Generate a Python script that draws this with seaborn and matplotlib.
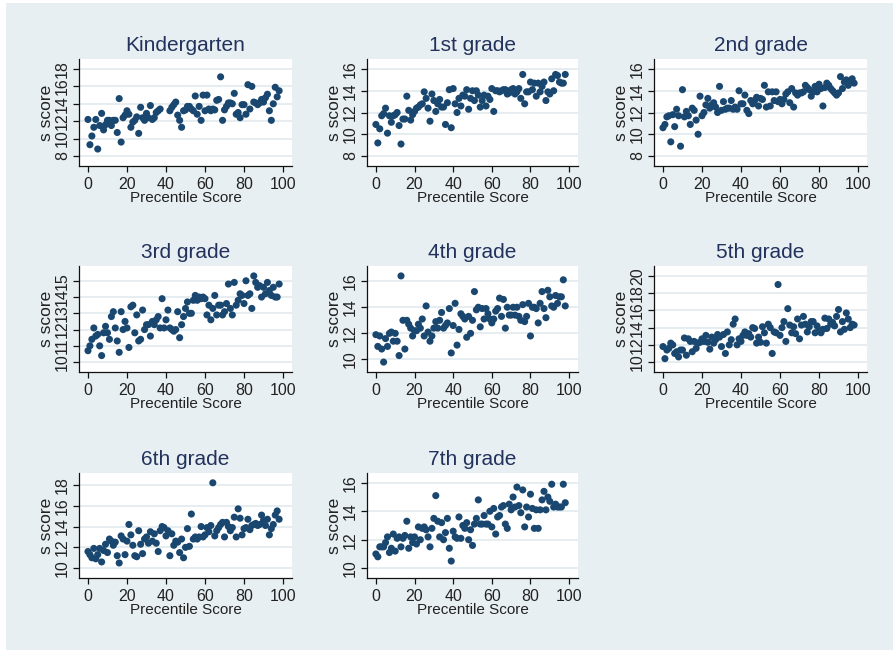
import numpy as np
import pandas as pd
import matplotlib
matplotlib.use("Agg")
import matplotlib.pyplot as plt
from matplotlib.patches import Rectangle
import seaborn as sns

nan = np.nan
percentile = list(range(99))

kindergarten = [12.2, 9.3, 10.3, 11.3, 12.2, 8.8, 11.5, 12.9, 11.0, 11.6,
                12.1, 12.1, 11.5, 12.1, 12.1, 10.7, 14.6, 9.6, 12.4, 12.7,
                13.2, 12.8, 11.3, 11.9, 12.1, 12.5, 10.6, 13.6, 12.4, 12.1,
                12.9, 12.4, 13.8, 12.2, 12.4, 13.0, 13.2, 13.4, nan, nan,
                nan, nan, 13.2, 13.6, 13.9, 14.2, 12.7, 12.1, 11.3, 13.2,
                13.3, 13.7, 13.7, 13.4, 13.2, 14.9, 12.8, 13.7, 12.1, 15.0,
                13.2, 15.0, 13.4, 13.2, 13.4, 13.3, 14.4, 14.5, 17.1, 12.1,
                13.3, 13.7, 14.1, 14.1, 14.0, 15.2, 12.8, 13.0, 12.4, 13.9,
                13.9, 12.8, 16.2, 13.4, 16.0, 14.2, 14.1, 13.9, 14.1, 14.5,
                14.2, 14.7, 15.1, 13.2, 12.1, 14.0, 15.9, 14.8, 15.5]

grade1 = [10.9, 9.2, 10.5, 11.7, 11.9, 12.4, 10.1, 11.7, 11.1, 11.7,
          11.8, 12.0, 10.8, 9.1, 11.4, 11.4, 13.5, 12.2, 11.3, 11.8,
          12.1, 12.4, 12.5, 12.7, 12.8, 13.9, 13.3, 12.4, 11.2, 13.7,
          13.1, 12.1, 12.8, 13.2, 12.5, 12.5, 10.9, 12.9, 14.1, 10.6,
          14.2, 12.8, 12.0, 13.3, 12.6, 13.6, 13.5, 14.1, 12.3, 13.3,
          14.0, 13.1, 14.0, 13.6, 12.5, 13.1, 13.6, 12.6, 13.5, 13.2,
          14.2, 12.1, 14.0, 14.0, 13.9, 14.0, 14.1, 14.1, 13.7, 13.8,
          14.1, 14.2, 13.7, 13.9, 14.2, 13.3, 15.5, 12.8, 13.9, 13.9,
          14.8, 14.1, 14.7, 13.5, 14.7, 13.9, 14.4, 14.8, 13.1, 13.9,
          13.7, 15.1, 14.0, 15.5, 15.4, 14.8, 14.7, 14.7, 15.5]

grade2 = [10.6, 10.9, 11.6, 11.7, 9.3, 11.8, 10.7, 12.3, 11.7, 8.9,
          14.1, 11.6, 12.1, 11.7, 10.9, 12.4, 12.2, 11.3, 10.0, 13.5,
          11.7, 12.0, 12.7, 13.3, 12.4, 12.7, 12.9, 12.5, 12.0, 14.4,
          12.2, 13.0, 12.3, 12.4, 12.4, 13.1, 12.3, 12.5, 12.3, 14.0,
          12.8, 12.8, 13.6, 12.2, 11.9, 13.1, 12.8, 13.1, 13.4, 12.6,
          13.3, 13.2, 14.5, 12.5, 13.9, 12.6, 13.9, 13.1, 13.9, 13.0,
          13.2, 12.8, 13.2, 13.7, 13.9, 12.9, 14.2, 12.5, 13.8, 13.6,
          13.8, 13.8, 13.9, 14.5, 14.3, 14.1, 13.5, 13.9, 14.4, 13.9,
          14.6, 14.2, 12.6, 14.3, 14.7, 14.5, 14.2, 14.0, 13.8, 13.6,
          13.8, 15.3, 14.2, 14.8, 15.0, 14.5, 14.8, 15.1, 14.7]

grade3 = [10.7, 11.0, 11.4, 12.1, 11.6, 11.7, 11.0, 10.4, 11.8, 12.2,
          11.8, 11.4, 12.8, 13.1, 12.1, 11.3, 10.6, 13.1, 12.0, 12.5,
          12.1, 10.9, 13.4, 13.5, 11.8, 12.9, 11.3, 11.4, 13.2, 12.0,
          12.3, 12.3, 11.6, 12.5, 12.3, 12.6, 12.8, 12.1, 13.9, 12.1,
          12.6, 13.2, 12.1, 12.0, 11.9, 12.0, 13.1, 11.5, 12.3, 12.8,
          13.3, 13.7, 13.0, 13.0, 13.8, 14.1, 13.8, 14.0, 13.9, 14.0,
          13.9, 12.9, 13.5, 12.6, 13.3, 14.1, 12.9, 13.5, 13.5, 12.9,
          13.1, 13.6, 14.8, 13.3, 12.9, 14.9, 13.5, 13.8, 14.2, 14.1,
          13.6, 15.0, 14.1, 14.2, 13.3, 15.3, 14.9, 14.6, 14.7, 14.0,
          14.6, 14.2, 14.9, 14.4, 14.1, 14.6, 14.0, 14.0, 14.8]

grade4 = [11.9, 11.0, 11.8, 10.8, 9.8, 11.6, 11.0, 12.0, 12.1, 11.4,
          12.0, 11.4, 10.3, 16.4, 13.0, 10.8, 13.0, 12.7, 12.4, 11.8,
          12.2, 12.2, 12.7, 12.4, 13.1, 11.8, 14.1, 12.1, 11.4, 11.8,
          12.4, 12.9, 12.4, 13.0, 13.6, 12.4, 12.6, 12.8, 13.9, 10.5,
          12.6, 14.3, 11.1, 12.3, 13.5, 13.3, 13.1, 11.7, 13.3, 12.0,
          13.0, 15.2, 13.8, 14.0, 12.5, 13.9, 13.1, 13.9, 13.5, 13.1,
          12.8, 13.1, 13.7, 13.9, 14.7, 13.3, 14.6, 12.4, 14.0, 13.4,
          13.4, 14.0, 13.4, 14.0, 13.3, 13.0, 14.2, 12.9, 13.3, 14.3,
          11.8, 14.0, 14.0, 13.9, 12.8, 14.3, 15.2, 13.9, 13.2, 15.3,
          14.8, 14.1, 14.0, 14.9, 14.3, 14.8, 14.8, 16.1, 14.1]

grade5 = [11.8, 10.4, 11.4, 11.6, 12.2, 12.0, 11.0, 11.2, 10.6, 11.4,
          11.4, 12.8, 10.8, 12.7, 12.4, 11.2, 12.4, 11.6, 12.2, 12.3,
          12.7, 12.4, 13.1, 12.3, 11.5, 12.9, 12.2, 12.6, 13.2, 12.9,
          11.8, 13.2, 11.0, 13.5, 12.0, 12.6, 14.4, 15.0, 12.0, 12.7,
          12.4, 13.1, 13.5, 13.1, 13.3, 12.9, 14.0, 13.9, 12.2, 12.9,
          12.3, 14.1, 13.4, 12.2, 14.4, 14.0, 11.0, 13.5, 13.4, 19.0,
          13.1, 14.0, 14.7, 12.4, 16.2, 14.3, 13.4, 14.1, 13.3, 15.0,
          12.7, 14.3, 15.3, 14.4, 13.5, 14.1, 14.7, 14.7, 13.4, 14.2,
          13.7, 13.4, 13.8, 15.1, 13.9, 15.0, 14.4, 14.6, 14.2, 15.3,
          16.1, 13.5, 14.7, 13.8, 15.7, 15.0, 14.0, 14.4, 14.3]

grade6 = [11.6, 11.3, 11.0, 11.9, 10.9, 11.3, 11.9, 10.6, 11.7, 12.3,
          11.5, 12.8, 12.6, 12.2, 12.5, 11.2, 10.5, 13.1, 12.8, 11.3,
          12.6, 14.2, 13.2, 12.2, 11.2, 11.1, 13.6, 12.3, 11.4, 12.8,
          13.0, 12.4, 13.5, 12.6, 13.3, 12.4, 11.6, 13.6, 14.0, 13.9,
          13.1, 13.6, 11.2, 13.3, 12.2, 12.6, 12.5, 11.5, 12.8, 11.0,
          12.0, 13.8, 12.1, 15.2, 12.8, 13.0, 12.8, 13.0, 14.0, 13.0,
          13.2, 13.9, 13.5, 14.1, 18.2, 13.1, 13.6, 13.9, 14.2, 14.4,
          13.0, 14.4, 14.0, 13.6, 13.9, 14.9, 13.0, 15.7, 14.8, 13.2,
          13.8, 13.9, 14.7, 13.7, 14.1, 14.2, 14.3, 14.1, 14.2, 15.1,
          14.6, 14.1, 14.7, 13.2, 13.8, 14.2, 15.1, 15.5, 14.7]

grade7 = [11.0, 10.8, 11.5, 11.5, 11.5, 11.8, 12.2, 11.1, 11.4, 12.4,
          11.2, 12.1, 12.2, 11.5, 12.1, 12.3, 13.3, 11.4, 12.2, 11.8,
          12.2, 11.7, 12.9, 12.0, 12.8, 12.9, 12.7, 12.2, 11.5, 12.8,
          13.5, 15.1, 13.3, 12.2, 13.2, 12.0, 12.5, 13.5, 11.4, 10.5,
          12.6, 12.2, 12.1, 13.6, 12.1, 13.0, 12.8, 13.2, 12.0, 12.7,
          11.6, 13.1, 13.5, 14.8, 13.1, 13.1, 13.7, 13.1, 13.1, 14.0,
          12.9, 14.2, 12.4, 13.6, 13.7, 14.3, 14.4, 13.1, 12.8, 14.5,
          14.1, 15.0, 14.3, 15.7, 14.4, 13.9, 15.5, 12.9, 14.3, 13.6,
          15.2, 14.2, 12.8, 14.1, 12.8, 14.1, 14.8, 15.4, 14.1, 15.0,
          14.7, 15.9, 14.3, 14.5, 14.3, 14.3, 14.3, 15.9, 14.6]

panel_titles = ["Kindergarten", "1st grade", "2nd grade", "3rd grade",
                "4th grade", "5th grade", "6th grade", "7th grade"]
panel_scores = [kindergarten, grade1, grade2, grade3, grade4, grade5, grade6, grade7]
panel_yticks = [[8, 10, 12, 14, 16, 18], [8, 10, 12, 14, 16], [8, 10, 12, 14, 16],
                [10, 11, 12, 13, 14, 15], [10, 12, 14, 16], [10, 12, 14, 16, 18, 20],
                [10, 12, 14, 16, 18], [10, 12, 14, 16]]
xticks = [0, 20, 40, 60, 80, 100]

frames = []
for title, scores in zip(panel_titles, panel_scores):
    frames.append(pd.DataFrame({"grade": title, "pct": percentile, "score": scores}))
df = pd.concat(frames, ignore_index=True)

sns.set_theme(style="white")
plt.rcParams["font.family"] = ["Liberation Sans", "DejaVu Sans"]

W, H = 893, 650
bg = "#e8eff2"
fig = plt.figure(figsize=(W / 100, H / 100), dpi=100, facecolor=bg)
# thin white strips on the left and top edges
fig.patches.append(Rectangle((0, 0), 6 / W, 1, transform=fig.transFigure,
                             facecolor="white", edgecolor="none", zorder=-10))
fig.patches.append(Rectangle((0, 1 - 3 / H), 1, 3 / H, transform=fig.transFigure,
                             facecolor="white", edgecolor="none", zorder=-10))

col_l = [79, 367, 654]
col_r = [292, 578, 867]
row_t = [59, 266, 473]
row_b = [166, 372, 578]

marker_color = "#1a476f"
text_color = "#222222"
title_color = "#22325c"

for i, (title, ticks) in enumerate(zip(panel_titles, panel_yticks)):
    r, c = divmod(i, 3)
    L, R, T, B = col_l[c], col_r[c], row_t[r], row_b[r]
    ax = fig.add_axes([L / W, 1 - B / H, (R - L) / W, (B - T) / H])
    ax.set_facecolor("white")
    sub = df[df["grade"] == title]
    sns.scatterplot(data=sub, x="pct", y="score", ax=ax, color=marker_color,
                    s=26, edgecolor="none", linewidth=0, zorder=3)
    ys = sub["score"].dropna()
    lo = min(ys.min(), ticks[0])
    hi = max(ys.max(), ticks[-1])
    m = 0.115 * (hi - lo)
    ax.set_ylim(lo - m, hi + m)
    ax.set_xlim(-4.6, 104.6)
    ax.set_xticks(xticks)
    ax.set_yticks(ticks)
    ax.set_yticklabels([str(t) for t in ticks])
    for t in ticks:
        ax.axhline(t, color="#e4ecef", lw=1.3, zorder=1)
    for side in ["top", "right"]:
        ax.spines[side].set_visible(False)
    for side in ["left", "bottom"]:
        ax.spines[side].set_color("#111111")
        ax.spines[side].set_linewidth(0.9)
    ax.tick_params(axis="both", which="major", direction="out", length=4, width=0.9,
                   color="#111111", labelsize=11.5, labelcolor=text_color, left=True, bottom=True)
    ax.tick_params(axis="x", pad=4)
    ax.tick_params(axis="y", pad=2.5)
    for lab in ax.get_yticklabels():
        lab.set_rotation(90)
        lab.set_va("center")
        lab.set_ha("right")
    ax.set_xlabel("Precentile Score", fontsize=11, color=text_color)
    ax.set_ylabel("s score", fontsize=12.5, color=text_color)
    ax.xaxis.set_label_coords(0.5, -0.235)
    ax.yaxis.set_label_coords(-0.118, 0.5)
    ax.set_title(title, fontsize=15, color=title_color, pad=6)

fig.savefig("out.png", dpi=100, facecolor=fig.get_facecolor())
